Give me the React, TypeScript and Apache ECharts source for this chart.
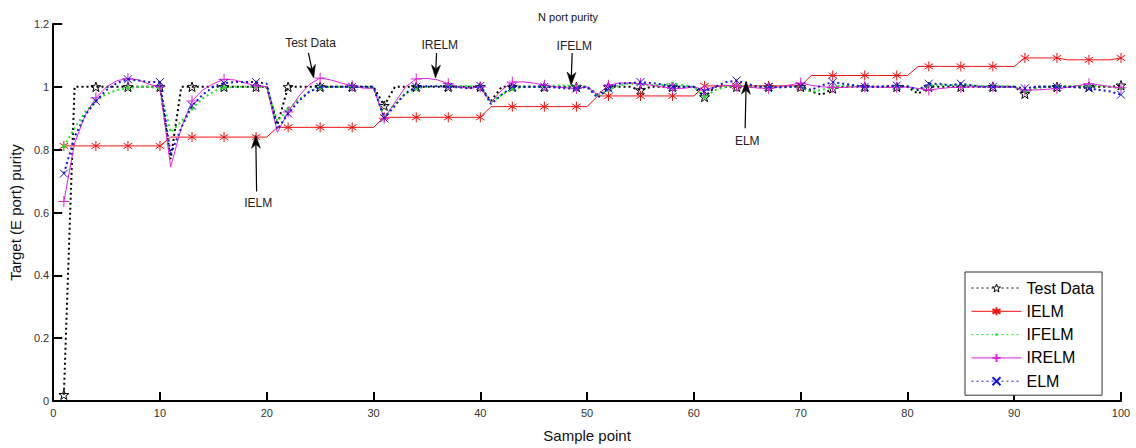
import React, { useEffect, useRef } from "react";
import * as echarts from "echarts";

const FONT = "Liberation Sans, Arial, sans-serif";

const seriesNames = ["Test Data", "IELM", "IFELM", "IRELM", "ELM"];

// sample points 1..100
const samplePoints = [
  1, 2, 3, 4, 5, 6, 7, 8, 9, 10, 11, 12, 13, 14, 15, 16, 17, 18, 19, 20,
  21, 22, 23, 24, 25, 26, 27, 28, 29, 30, 31, 32, 33, 34, 35, 36, 37, 38, 39, 40,
  41, 42, 43, 44, 45, 46, 47, 48, 49, 50, 51, 52, 53, 54, 55, 56, 57, 58, 59, 60,
  61, 62, 63, 64, 65, 66, 67, 68, 69, 70, 71, 72, 73, 74, 75, 76, 77, 78, 79, 80,
  81, 82, 83, 84, 85, 86, 87, 88, 89, 90, 91, 92, 93, 94, 95, 96, 97, 98, 99, 100,
];

const testData = [
  0.02, 1, 1, 1, 1, 1, 1, 1, 1, 1,
  0.77, 1, 1, 1, 1, 1, 1, 1, 1, 1,
  0.88, 1, 1, 1, 1, 1, 1, 1, 1, 1,
  0.94, 1, 1, 1, 1, 1, 1, 1, 1, 1,
  0.955, 1, 1, 1, 1, 1, 1, 1, 1, 1,
  0.975, 1, 1, 1, 0.99, 1, 1, 1, 1, 1,
  0.968, 1, 1, 1, 1, 1, 1, 1, 1, 1,
  0.985, 0.975, 0.995, 1, 1, 1, 1, 1, 1, 1,
  0.978, 1, 1, 1, 1, 1, 1, 1, 1, 1,
  0.978, 1, 1, 1, 1, 1, 1, 1, 1, 1.005,
];

const ielm = [
  0.812, 0.812, 0.812, 0.812, 0.812, 0.812, 0.812, 0.812, 0.812, 0.812,
  0.84, 0.84, 0.84, 0.84, 0.84, 0.84, 0.84, 0.84, 0.84, 0.84,
  0.871, 0.871, 0.871, 0.871, 0.871, 0.871, 0.871, 0.871, 0.871, 0.871,
  0.903, 0.903, 0.903, 0.903, 0.903, 0.903, 0.903, 0.903, 0.903, 0.903,
  0.937, 0.937, 0.937, 0.937, 0.937, 0.937, 0.937, 0.937, 0.937, 0.937,
  0.971, 0.971, 0.971, 0.971, 0.971, 0.971, 0.971, 0.971, 0.971, 0.971,
  1.003, 1.003, 1.003, 1.003, 1.003, 1.003, 1.003, 1.003, 1.003, 1.003,
  1.036, 1.036, 1.036, 1.036, 1.036, 1.036, 1.036, 1.036, 1.036, 1.036,
  1.065, 1.065, 1.065, 1.065, 1.065, 1.065, 1.065, 1.065, 1.065, 1.065,
  1.092, 1.092, 1.092, 1.092, 1.086, 1.086, 1.086, 1.086, 1.086, 1.092,
];

const ifelm = [
  0.81, 0.868, 0.92, 0.955, 0.978, 0.99, 0.996, 1.0, 1.0, 0.995,
  0.855, 0.89, 0.93, 0.963, 0.985, 0.998, 1.0, 1.0, 1.0, 0.998,
  0.89, 0.93, 0.96, 0.985, 0.998, 1.0, 1.0, 1.0, 1.0, 0.998,
  0.905, 0.945, 0.978, 0.995, 1.0, 1.003, 1.003, 1.003, 1.002, 1.0,
  0.95, 0.975, 0.993, 1.0, 1.0, 1.002, 1.004, 1.004, 1.003, 1.0,
  0.97, 0.99, 1.004, 1.01, 1.008, 1.006, 1.006, 1.01, 1.005, 1.0,
  0.968, 0.99, 1.0, 1.004, 1.002, 1.0, 1.0, 1.0, 1.0, 1.0,
  0.984, 0.99, 1.0, 1.004, 1.002, 1.0, 1.0, 1.0, 1.0, 1.0,
  0.99, 1.004, 1.006, 1.005, 1.005, 1.004, 1.003, 1.002, 1.002, 1.0,
  0.985, 0.995, 1.0, 1.0, 1.003, 1.003, 1.003, 1.003, 1.0, 0.995,
];

const irelm = [
  0.635, 0.82, 0.91, 0.965, 1.0, 1.02, 1.026, 1.022, 1.008, 1.0,
  0.745, 0.87, 0.955, 0.99, 1.01, 1.024, 1.022, 1.012, 1.003, 1.0,
  0.855, 0.92, 0.97, 1.008, 1.028, 1.022, 1.012, 1.003, 0.996, 0.995,
  0.9, 0.95, 1.0, 1.025, 1.027, 1.022, 1.01, 1.0, 0.995, 1.0,
  0.95, 0.99, 1.015, 1.016, 1.012, 1.005, 1.0, 0.997, 0.995, 1.0,
  0.975, 1.005, 1.012, 1.013, 1.01, 1.005, 1.0, 0.995, 0.995, 1.0,
  0.99, 1.0, 1.005, 1.002, 1.0, 0.996, 0.995, 1.0, 1.006, 1.012,
  1.005, 1.0, 0.998, 0.998, 1.0, 1.0, 1.0, 0.998, 0.998, 1.0,
  0.995, 0.99, 0.994, 0.998, 0.998, 1.0, 1.0, 1.0, 1.0, 0.998,
  0.99, 0.99, 0.992, 0.995, 0.998, 1.004, 1.01, 1.006, 1.0, 0.997,
];

const elm = [
  0.724, 0.84, 0.91, 0.955, 0.99, 1.013, 1.024, 1.02, 1.015, 1.015,
  0.785, 0.87, 0.94, 0.975, 1.0, 1.012, 1.015, 1.015, 1.015, 1.01,
  0.865, 0.915, 0.955, 0.985, 1.0, 1.0, 1.0, 1.0, 1.0, 1.0,
  0.9, 0.94, 0.98, 1.0, 1.002, 1.002, 1.0, 0.998, 0.995, 1.003,
  0.945, 0.975, 1.0, 1.0, 1.0, 1.0, 0.998, 0.995, 0.995, 1.0,
  0.965, 0.995, 1.01, 1.012, 1.015, 1.012, 1.008, 1.0, 1.0, 1.0,
  0.985, 1.0, 1.015, 1.02, 1.01, 1.0, 1.0, 0.998, 1.0, 1.002,
  0.99, 1.005, 1.015, 1.01, 1.005, 1.0, 1.0, 1.002, 1.004, 1.002,
  0.99, 1.01, 1.01, 1.005, 1.01, 1.005, 1.0, 1.0, 1.0, 1.0,
  0.995, 1.0, 1.0, 1.0, 1.0, 0.998, 0.995, 0.99, 0.985, 0.975,
];

// annotations: label position and arrow (start -> tip), in data coordinates
const annotations = [
  { text: "Test Data", tx: 24.1, ty: 1.139, ax1: 23.9, ay1: 1.108, ax2: 24.4, ay2: 1.028 },
  { text: "IRELM", tx: 36.2, ty: 1.133, ax1: 35.9, ay1: 1.108, ax2: 35.8, ay2: 1.028 },
  { text: "IFELM", tx: 48.8, ty: 1.13, ax1: 48.6, ay1: 1.108, ax2: 48.5, ay2: 1.005 },
  { text: "IELM", tx: 19.2, ty: 0.629, ax1: 19.05, ay1: 0.667, ax2: 18.97, ay2: 0.846 },
  { text: "ELM", tx: 65.0, ty: 0.827, ax1: 64.8, ay1: 0.868, ax2: 64.9, ay2: 1.018 },
];

const STAR =
  "path://M0,-5L1.18,-1.62L4.76,-1.55L1.9,0.62L2.94,4.05L0,2L-2.94,4.05L-1.9,0.62L-4.76,-1.55L-1.18,-1.62Z";
const ASTER = "path://M0,-5L0,5M-4.3,-2.8L4.3,2.8M-4.3,2.8L4.3,-2.8";
const PLUS = "path://M0,-5L0,5M-5,0L5,0";
const CROSS = "path://M-4,-4L4,4M-4,4L4,-4";
// small dot inside a padded box, so it stays small in the legend too
const SMALL_DOT = "path://M-5,-5M5,5M-1.7,0A1.7,1.7,0,1,0,1.7,0A1.7,1.7,0,1,0,-1.7,0Z";

function markEvery3(values: number[]) {
  return values.map((v, i) =>
    i % 3 === 0 ? [samplePoints[i], v] : { value: [samplePoints[i], v], symbol: "none" }
  );
}

function axisCommon() {
  return {
    axisLine: { show: true, onZero: false, lineStyle: { color: "#000", width: 2 } },
    axisTick: { show: true, inside: true, length: 9, lineStyle: { color: "#000", width: 2 } },
    splitLine: { show: false },
    nameTextStyle: { color: "#111", fontSize: 15, fontFamily: FONT },
  };
}

const GREEN = "#1ee81e";

export default function App() {
  const ref = useRef<HTMLDivElement>(null);
  useEffect(() => {
    const chart = echarts.init(ref.current!, null, { renderer: "svg" });
    const option: any = {
      animation: false,
      backgroundColor: "#fff",
      title: {
        text: "N port purity",
        left: "center",
        top: 6,
        textStyle: { fontSize: 11, fontWeight: "normal", color: "#111", fontFamily: FONT },
      },
      grid: { left: 51, right: 15, top: 24, bottom: 46, containLabel: false },
      xAxis: {
        type: "value",
        min: 0,
        max: 100,
        interval: 10,
        name: "Sample point",
        nameLocation: "middle",
        nameGap: 27,
        ...axisCommon(),
        axisLabel: { color: "#333", fontSize: 11, fontFamily: FONT, margin: 6 },
      },
      yAxis: {
        type: "value",
        min: 0,
        max: 1.2,
        interval: 0.2,
        name: "Target (E port) purity",
        nameLocation: "middle",
        nameGap: 26,
        ...axisCommon(),
        axisLabel: { color: "#333", fontSize: 11, fontFamily: FONT, margin: 4 },
      },
      legend: {
        orient: "vertical",
        left: 965,
        top: 272,
        padding: [8, 8, 6, 6],
        itemGap: 7.3,
        itemWidth: 50,
        itemHeight: 10,
        borderColor: "#333",
        borderWidth: 1,
        backgroundColor: "#fff",
        lineStyle: { width: 1 },
        textStyle: { fontSize: 16, lineHeight: 16, color: "#000", fontFamily: FONT },
        data: [
          { name: seriesNames[0], itemStyle: { color: "#fff", borderColor: "#000", borderWidth: 1 } },
          { name: seriesNames[1] },
          { name: seriesNames[2] },
          { name: seriesNames[3] },
          { name: seriesNames[4] },
        ],
      },
      series: [
        {
          name: seriesNames[0],
          type: "line",
          data: markEvery3(testData),
          symbol: STAR,
          symbolSize: 10,
          symbolKeepAspect: true,
          itemStyle: { color: "rgba(255,255,255,0)", borderColor: "#000", borderWidth: 1 },
          lineStyle: { color: "#000", width: 2, type: [2, 3] },
          z: 2,
        },
        {
          name: seriesNames[1],
          type: "line",
          data: markEvery3(ielm),
          symbol: ASTER,
          symbolSize: 10,
          symbolKeepAspect: true,
          itemStyle: { color: "#f01010", borderColor: "#f01010", borderWidth: 1 },
          lineStyle: { color: "#f01010", width: 1 },
          z: 3,
        },
        {
          name: seriesNames[2],
          type: "line",
          data: markEvery3(ifelm),
          symbol: SMALL_DOT,
          symbolSize: 11,
          symbolKeepAspect: true,
          itemStyle: { color: GREEN, borderWidth: 0 },
          lineStyle: { color: GREEN, width: 2, type: [2, 3] },
          z: 4,
        },
        {
          name: seriesNames[3],
          type: "line",
          data: markEvery3(irelm),
          symbol: PLUS,
          symbolSize: 11,
          symbolKeepAspect: true,
          itemStyle: { color: "#e020e0", borderColor: "#e020e0", borderWidth: 1 },
          lineStyle: { color: "#e020e0", width: 1 },
          z: 5,
        },
        {
          name: seriesNames[4],
          type: "line",
          data: markEvery3(elm),
          symbol: CROSS,
          symbolSize: 8,
          symbolKeepAspect: true,
          itemStyle: { color: "#1515d8", borderColor: "#1515d8", borderWidth: 1 },
          lineStyle: { color: "#1515d8", width: 2, type: [2, 3] },
          z: 6,
        },
      ],
    };
    chart.setOption(option);

    const graphics: any[] = [];
    annotations.forEach((a) => {
      const t = chart.convertToPixel({ gridIndex: 0 }, [a.tx, a.ty]) as number[];
      const p1 = chart.convertToPixel({ gridIndex: 0 }, [a.ax1, a.ay1]) as number[];
      const p2 = chart.convertToPixel({ gridIndex: 0 }, [a.ax2, a.ay2]) as number[];
      const dx = p2[0] - p1[0];
      const dy = p2[1] - p1[1];
      const len = Math.sqrt(dx * dx + dy * dy);
      const ux = dx / len;
      const uy = dy / len;
      const nx = -uy;
      const ny = ux;
      const L = 13;
      const W = 4.5;
      const back = [p2[0] - ux * L, p2[1] - uy * L];
      const notch = [p2[0] - ux * L * 0.72, p2[1] - uy * L * 0.72];
      graphics.push({
        type: "text",
        x: t[0],
        y: t[1],
        z: 100,
        style: {
          text: a.text,
          fill: "#222",
          fontSize: 12,
          fontFamily: FONT,
          align: "center",
          verticalAlign: "middle",
        },
      });
      graphics.push({
        type: "line",
        z: 100,
        shape: { x1: p1[0], y1: p1[1], x2: notch[0], y2: notch[1] },
        style: { stroke: "#000", lineWidth: 1.2 },
      });
      graphics.push({
        type: "polygon",
        z: 100,
        shape: {
          points: [
            [p2[0], p2[1]],
            [back[0] + nx * W, back[1] + ny * W],
            [notch[0], notch[1]],
            [back[0] - nx * W, back[1] - ny * W],
          ],
        },
        style: { fill: "#000", stroke: "#000", lineWidth: 0.5 },
      });
    });
    chart.setOption({ graphic: graphics });

    return () => chart.dispose();
  }, []);
  return (
    <div
      ref={ref}
      style={{ position: "fixed", left: 0, top: 0, width: 1136, height: 448, background: "#fff" }}
    />
  );
}
